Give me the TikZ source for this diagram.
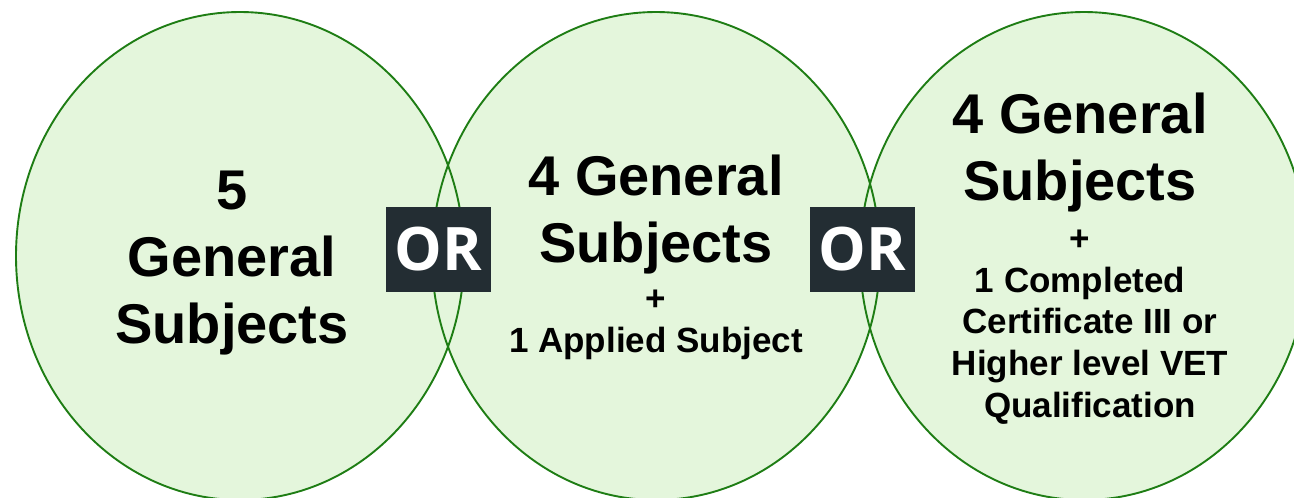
\documentclass[tikz,border=0pt]{standalone}
\usepackage{fontspec}
\setmainfont{Liberation Sans}
\newfontfamily\orfont{Open Sans}
\usetikzlibrary{positioning}

\definecolor{ringfill}{HTML}{E4F6DC}
\definecolor{ringline}{HTML}{1E7D14}
\definecolor{orslate}{HTML}{232D33}

\begin{document}
\begin{tikzpicture}[
    x=1pt,y=-1pt,
    ring/.style={draw=ringline,line width=1.9pt},
    big/.style={align=center,anchor=base,
        font=\bfseries\fontsize{56}{67}\selectfont},
    small/.style={align=center,anchor=base,
        font=\bfseries\fontsize{35}{42}\selectfont},
    orbox/.style={fill=orslate,text=white,inner sep=0pt,
        minimum width=105pt,minimum height=85pt,
        font=\orfont\bfseries\fontsize{60}{60}\selectfont}
  ]
    \useasboundingbox (0,0) rectangle (1294,498);

    % the three options
    \foreach \cx in {240,656,1084}
        \fill[ringfill] (\cx,256) ellipse [x radius=224pt,y radius=244pt];
    \foreach \cx in {240,656,1084}
        \draw[ring] (\cx,256) ellipse [x radius=224pt,y radius=244pt];

    \node[orbox] (or1) at (438.5,249.5) {OR};
    \node[orbox] (or2) at (862.5,249.5) {OR};

    % base anchor sits on the last line
    \node[big] (five)  at (232,343) {5\\General\\Subjects};

    \node[big]   (four)    at (656,262) {4 General\\Subjects};
    \node[small] (applied) at (656,352) {+\\1 Applied Subject};

    \node[big]   (fourvet) at (1080,200) {4 General\\Subjects};
    \node[small] (plusvet) at (1080,292) {+\\1 Completed};
    \node[small] (vet)     at (1090,417) {Certificate III or\\Higher level VET\\Qualification};
\end{tikzpicture}
\end{document}
